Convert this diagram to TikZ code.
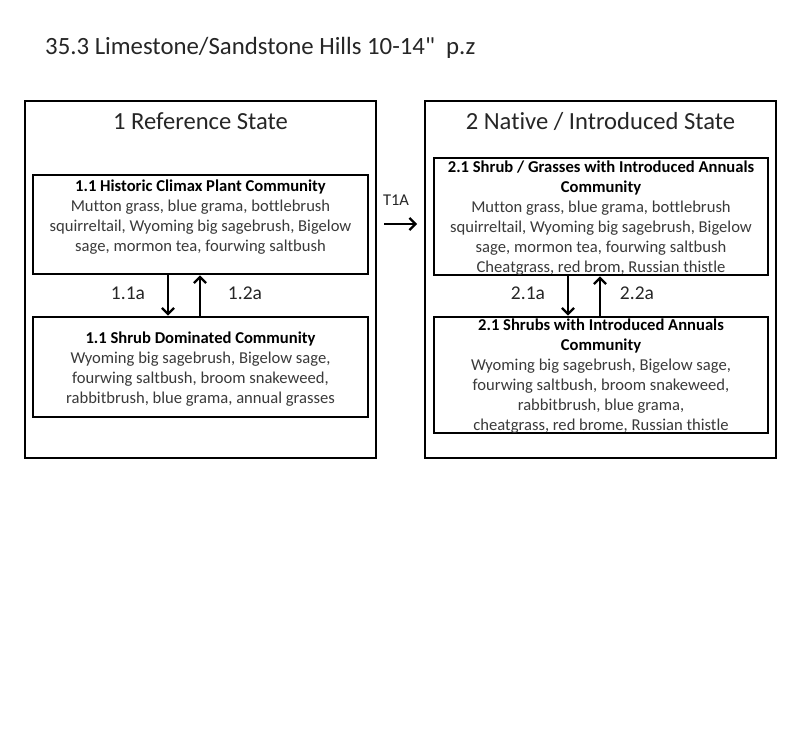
\documentclass[tikz,border=0pt]{standalone}
\usepackage{fontspec}
\setmainfont{Carlito}[Ligatures={NoCommon}]
\usetikzlibrary{arrows.meta}
\definecolor{bodygray}{HTML}{3A3A3A}
\tikzset{
  x=1pt, y=-1pt,
  statebox/.style={draw=black, line width=2.8pt, minimum width=351pt, minimum height=357pt, inner sep=0pt},
  commbox/.style={draw=black, line width=2.8pt, inner sep=0pt},
  statetitle/.style={font=\fontsize{24.6}{28}\selectfont, text=black!85, inner sep=0pt},
  commtext/.style={anchor=north, align=center, inner sep=0pt, text=bodygray, font=\fontsize{16.6}{20}\selectfont},
  hdr/.style={},
  translabel/.style={font=\fontsize{19.5}{22}\selectfont, text=black!85, inner sep=0pt},
  transarrow/.style={line width=2.3pt, -{Straight Barb[length=6pt,width=12pt,line width=2.3pt]}}
}
\newcommand{\hd}[1]{{\color{black}\fontsize{16.6}{20}\selectfont\bfseries #1}}
\begin{document}
\begin{tikzpicture}
\useasboundingbox (0,0) rectangle (800,749);
\fill[white] (0,0) rectangle (800,749);

\node[anchor=west, inner sep=0pt, text=black!85, font=\fontsize{24.8}{28}\selectfont] (title) at (45,48) {35.3 Limestone/Sandstone Hills 10-14\textquotedbl\ \ p.z};

% State boxes
\node[statebox] (s1) at (200.5,279.5) {};
\node[statebox] (s2) at (600.5,279.5) {};
\node[statetitle] (s1t) at (200.5,121) {1 Reference State};
\node[statetitle] (s2t) at (600.5,121) {2 Native / Introduced State};

% Community boxes
\node[commbox, minimum width=335pt, minimum height=99pt] (c11) at (200.5,224.5) {};
\node[commbox, minimum width=335pt, minimum height=100pt] (c12) at (200.5,367) {};
\node[commbox, minimum width=334pt, minimum height=117pt] (c21) at (601,216.5) {};
\node[commbox, minimum width=334pt, minimum height=116pt] (c22) at (601,375) {};

\node[commtext] (c11t) at (200.5,177) {\strut\hd{1.1 Historic Climax Plant Community}\\Mutton grass, blue grama, bottlebrush\\squirreltail, Wyoming big sagebrush, Bigelow\\sage, mormon tea, fourwing saltbush};
\node[commtext] (c12t) at (200.5,329) {\strut\hd{1.1 Shrub Dominated Community}\\Wyoming big sagebrush, Bigelow sage,\\fourwing saltbush,\ broom snakeweed,\\rabbitbrush, blue grama, annual grasses};
\node[commtext] (c21t) at (601,158) {\strut\hd{2.1 Shrub / Grasses with Introduced Annuals}\\\hd{Community}\\Mutton grass, blue grama, bottlebrush\\squirreltail, Wyoming big sagebrush, Bigelow\\sage, mormon tea, fourwing saltbush\\Cheatgrass, red brom, Russian thistle};
\node[commtext] (c22t) at (601,316) {\strut\hd{2.1 Shrubs with Introduced Annuals}\\\hd{Community}\\Wyoming big sagebrush, Bigelow sage,\\fourwing saltbush,\ broom snakeweed,\\rabbitbrush, blue grama,\\cheatgrass, red brome, Russian thistle};

% Transitions within state 1
\draw[transarrow] (c11.south -| 168,0) -- (c12.north -| 168,0);
\draw[transarrow] (c12.north -| 200,0) -- (c11.south -| 200,0);
\node[translabel] (l11) at (128,293) {1.1a};
\node[translabel] (l12) at (245,293) {1.2a};

% Transitions within state 2
\draw[transarrow] (c21.south -| 568,0) -- (c22.north -| 568,0);
\draw[transarrow] (c22.north -| 600,0) -- (c21.south -| 600,0);
\node[translabel] (l21) at (528,293) {2.1a};
\node[translabel] (l22) at (637,293) {2.2a};

% T1A
\coordinate (t1start) at (384,224);
\coordinate (t1end) at (417,224);
\draw[transarrow] (t1start) -- (t1end);
\node[translabel, font=\fontsize{16.5}{20}\selectfont] (t1a) at (396,200) {T1A};
\end{tikzpicture}
\end{document}
